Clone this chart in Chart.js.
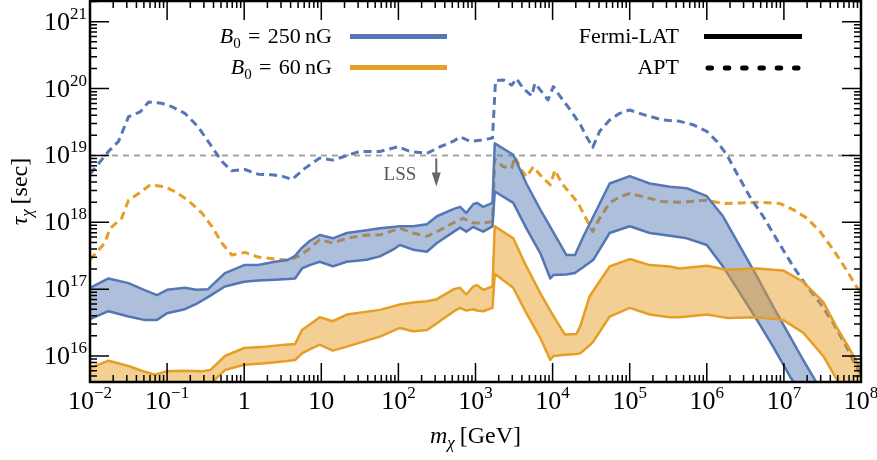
<!DOCTYPE html>
<html>
<head>
<meta charset="utf-8">
<script src="https://cdn.jsdelivr.net/npm/chart.js@4.4.0/dist/chart.umd.min.js"></script>
<style>
  body { margin: 0; background: #fff; }
</style>
</head>
<body>
<canvas id="tauChart" width="877" height="460"></canvas>
<script>
// all values are log10(m / GeV) and log10(tau / sec)
const fermi250LogM  = [-2.0, -1.76, -1.5, -1.3, -1.13, -1.0, -0.77, -0.62, -0.47, -0.25, 0.0, 0.18, 0.4, 0.57, 0.66, 0.75, 0.85, 0.98, 1.15, 1.33, 1.59, 1.76, 1.93, 2.02, 2.19, 2.37, 2.5, 2.72, 2.8, 2.88, 2.97, 3.02, 3.1, 3.22, 3.25, 3.49, 3.66, 3.84, 3.97, 4.01, 4.18, 4.29, 4.4, 4.53, 4.74, 5.0, 5.26, 5.52, 5.74, 6.0, 6.21, 6.43, 6.65, 6.86, 7.08, 7.25, 7.45];
const fermi250Upper = [17.02, 17.16, 17.09, 16.99, 16.91, 16.99, 17.02, 16.99, 17.0, 17.24, 17.36, 17.36, 17.41, 17.44, 17.5, 17.62, 17.72, 17.81, 17.76, 17.84, 17.88, 17.91, 17.93, 17.94, 17.94, 17.97, 18.09, 18.2, 18.23, 18.14, 18.27, 18.29, 18.23, 18.29, 19.18, 19.01, 18.58, 18.19, 17.93, 17.85, 17.51, 17.51, 17.79, 18.09, 18.58, 18.69, 18.58, 18.53, 18.51, 18.39, 18.09, 17.64, 17.19, 16.74, 16.29, 15.94, 15.55];
const fermi250Lower = [16.55, 16.67, 16.59, 16.54, 16.54, 16.64, 16.7, 16.78, 16.88, 17.04, 17.11, 17.13, 17.14, 17.15, 17.16, 17.31, 17.36, 17.41, 17.34, 17.41, 17.44, 17.49, 17.59, 17.66, 17.59, 17.56, 17.69, 17.86, 17.92, 17.86, 17.93, 17.9, 17.86, 17.94, 18.46, 18.29, 17.91, 17.54, 17.16, 17.21, 17.22, 17.24, 17.33, 17.44, 17.84, 17.94, 17.84, 17.8, 17.76, 17.66, 17.34, 16.94, 16.54, 16.14, 15.69, 15.4, 15.1];

const fermi60LogM  = [-2.0, -1.76, -1.5, -1.33, -1.16, -1.01, -0.77, -0.55, -0.44, -0.25, 0.0, 0.27, 0.53, 0.66, 0.75, 0.85, 0.98, 1.15, 1.33, 1.76, 2.02, 2.19, 2.37, 2.5, 2.72, 2.8, 2.88, 2.97, 3.02, 3.1, 3.22, 3.25, 3.49, 3.66, 3.84, 3.97, 4.01, 4.16, 4.31, 4.36, 4.48, 4.53, 4.74, 5.0, 5.26, 5.52, 5.65, 6.0, 6.26, 6.65, 6.99, 7.25, 7.51, 7.68, 7.86, 8.0];
const fermi60Upper = [15.82, 15.93, 15.85, 15.78, 15.72, 15.77, 15.78, 15.77, 15.79, 16.0, 16.12, 16.14, 16.17, 16.18, 16.39, 16.47, 16.58, 16.52, 16.62, 16.69, 16.77, 16.8, 16.82, 16.85, 17.0, 17.02, 16.92, 17.04, 17.06, 16.99, 17.04, 17.94, 17.76, 17.34, 16.94, 16.68, 16.6, 16.32, 16.33, 16.45, 16.89, 16.98, 17.34, 17.45, 17.36, 17.34, 17.31, 17.35, 17.29, 17.31, 17.28, 17.11, 16.81, 16.44, 16.09, 15.79];
const fermi60Lower = [15.45, 15.5, 15.42, 15.38, 15.35, 15.36, 15.4, 15.48, 15.58, 15.79, 15.87, 15.89, 15.92, 15.94, 16.04, 16.1, 16.17, 16.08, 16.14, 16.29, 16.42, 16.37, 16.39, 16.49, 16.67, 16.72, 16.68, 16.7, 16.68, 16.67, 16.72, 17.23, 17.02, 16.64, 16.27, 15.94, 16.0, 16.02, 16.03, 16.04, 16.16, 16.22, 16.59, 16.72, 16.62, 16.58, 16.58, 16.62, 16.57, 16.58, 16.54, 16.35, 16.0, 15.66, 15.3, 15.0];

const apt250LogM   = [-2.0, -1.76, -1.63, -1.5, -1.35, -1.24, -1.07, -0.94, -0.77, -0.6, -0.42, -0.29, -0.16, 0.01, 0.18, 0.36, 0.49, 0.62, 0.79, 0.98, 1.15, 1.5, 1.76, 2.0, 2.15, 2.37, 2.54, 2.71, 2.8, 2.93, 3.08, 3.22, 3.26, 3.36, 3.47, 3.53, 3.62, 3.73, 3.77, 3.86, 3.94, 4.01, 4.1, 4.23, 4.36, 4.44, 4.52, 4.61, 4.74, 4.87, 5.0, 5.18, 5.43, 5.65, 5.82, 6.0, 6.13, 6.26, 6.39, 6.56, 6.73, 6.91, 7.12, 7.3, 7.47, 7.64, 7.81, 7.94, 8.0];
const apt250LogTau = [18.72, 19.06, 19.21, 19.58, 19.65, 19.8, 19.78, 19.73, 19.63, 19.43, 19.13, 18.91, 18.77, 18.79, 18.72, 18.71, 18.69, 18.64, 18.81, 18.96, 18.93, 19.06, 19.06, 19.13, 19.06, 19.03, 19.13, 19.21, 19.28, 19.21, 19.23, 19.26, 20.12, 20.13, 20.05, 20.15, 20.0, 19.89, 20.08, 19.95, 19.83, 20.03, 19.88, 19.68, 19.46, 19.28, 19.12, 19.36, 19.53, 19.63, 19.68, 19.61, 19.53, 19.51, 19.46, 19.36, 19.21, 19.01, 18.73, 18.38, 18.09, 17.74, 17.34, 17.04, 16.79, 16.49, 16.14, 15.84, 15.72];

const apt60LogM   = [-2.0, -1.81, -1.74, -1.59, -1.5, -1.37, -1.22, -1.03, -0.9, -0.73, -0.55, -0.42, -0.29, -0.16, 0.01, 0.18, 0.4, 0.57, 0.7, 0.83, 0.98, 1.15, 1.33, 1.59, 1.76, 1.89, 2.02, 2.19, 2.37, 2.5, 2.71, 2.84, 2.97, 3.1, 3.22, 3.25, 3.36, 3.47, 3.51, 3.6, 3.66, 3.75, 3.86, 3.97, 4.03, 4.12, 4.23, 4.33, 4.44, 4.52, 4.61, 4.74, 4.87, 5.0, 5.18, 5.43, 5.65, 6.0, 6.21, 6.43, 6.69, 6.95, 7.12, 7.3, 7.47, 7.64, 7.81, 7.94, 8.0];
const apt60LogTau = [17.44, 17.69, 17.91, 18.06, 18.33, 18.43, 18.56, 18.53, 18.46, 18.33, 18.14, 17.94, 17.69, 17.51, 17.55, 17.48, 17.45, 17.43, 17.49, 17.59, 17.74, 17.69, 17.76, 17.81, 17.81, 17.86, 17.91, 17.84, 17.79, 17.86, 17.99, 18.06, 17.99, 17.99, 18.01, 18.95, 18.83, 18.81, 18.98, 18.78, 18.68, 18.83, 18.68, 18.56, 18.78, 18.58, 18.43, 18.29, 18.04, 17.86, 18.06, 18.29, 18.38, 18.43, 18.38, 18.31, 18.3, 18.33, 18.28, 18.29, 18.3, 18.28, 18.19, 18.06, 17.86, 17.59, 17.29, 17.04, 16.94];

const lssLimit = 1e19;      // sec
const lssArrowMass = 310;   // GeV

const xTickExps = [-2, -1, 0, 1, 2, 3, 4, 5, 6, 7, 8];
const xTickLabels = [['10', '−2'], ['10', '−1'], ['1', ''], ['10', ''], ['10', '2'], ['10', '3'], ['10', '4'], ['10', '5'], ['10', '6'], ['10', '7'], ['10', '8']];
const yTickExps = [16, 17, 18, 19, 20, 21];
const yTickLabels = [['10', '16'], ['10', '17'], ['10', '18'], ['10', '19'], ['10', '20'], ['10', '21']];

const blue = '#5677b6';
const blueFill = 'rgba(76, 114, 176, 0.45)';
const orange = '#e59e26';
const orangeFill = 'rgba(232, 160, 40, 0.5)';
const serif = '"Liberation Serif", "DejaVu Serif", serif';

function pts(logM, logTau) {
  return logM.map((m, i) => ({ x: 10 ** m, y: 10 ** logTau[i] }));
}

// draw a row of text pieces (for super/subscripts), aligned on x
function drawRuns(ctx, runs, x, y, align) {
  let total = 0;
  runs.forEach(r => { ctx.font = r.font; r.w = ctx.measureText(r.text).width; total += r.w; });
  let cx = align === 'right' ? x - total : align === 'center' ? x - total / 2 : x;
  ctx.textAlign = 'left';
  ctx.textBaseline = 'alphabetic';
  runs.forEach(r => {
    ctx.font = r.font;
    ctx.fillText(r.text, cx, y + (r.dy || 0));
    cx += r.w;
  });
}

function powRuns(lab) {
  const runs = [{ text: lab[0], font: '26px ' + serif }];
  if (lab[1]) runs.push({ text: lab[1], font: '17px ' + serif, dy: -11 });
  return runs;
}

const decorations = {
  id: 'decorations',
  afterDraw(chart) {
    const { ctx, chartArea: a, scales: { x, y } } = chart;
    ctx.save();
    ctx.strokeStyle = '#000';
    ctx.fillStyle = '#000';

    // inward ticks on all four sides
    ctx.lineWidth = 1.5;
    ctx.beginPath();
    for (let k = -2; k <= 8; k++) {
      for (let m = 1; m <= 9; m++) {
        const v = m * 10 ** k;
        if (v > x.max * 1.0001) continue;
        const px = x.getPixelForValue(v);
        const len = m === 1 ? 19 : 7;
        ctx.moveTo(px, a.bottom); ctx.lineTo(px, a.bottom - len);
        ctx.moveTo(px, a.top); ctx.lineTo(px, a.top + len);
      }
    }
    for (let k = 15; k <= 21; k++) {
      for (let m = 1; m <= 9; m++) {
        const v = m * 10 ** k;
        if (v < y.min || v > y.max) continue;
        const py = y.getPixelForValue(v);
        const len = m === 1 ? 19 : 7;
        ctx.moveTo(a.left, py); ctx.lineTo(a.left + len, py);
        ctx.moveTo(a.right, py); ctx.lineTo(a.right - len, py);
      }
    }
    ctx.stroke();

    ctx.lineWidth = 2.5;
    ctx.strokeRect(a.left, a.top, a.right - a.left, a.bottom - a.top);

    // tick labels
    xTickExps.forEach((e, i) => {
      drawRuns(ctx, powRuns(xTickLabels[i]), x.getPixelForValue(10 ** e), a.bottom + 27, 'center');
    });
    yTickExps.forEach((e, i) => {
      drawRuns(ctx, powRuns(yTickLabels[i]), a.left - 3, y.getPixelForValue(10 ** e) + 8, 'right');
    });

    // axis titles
    drawRuns(ctx, [
      { text: 'm', font: 'italic 24px ' + serif },
      { text: 'χ', font: 'italic 17px ' + serif, dy: 5 },
      { text: '\u2009[GeV]', font: '24px ' + serif }
    ], (a.left + a.right) / 2, 443, 'center');

    ctx.save();
    ctx.translate(27, (a.top + a.bottom) / 2);
    ctx.rotate(-Math.PI / 2);
    drawRuns(ctx, [
      { text: 'τ', font: 'italic 24px ' + serif },
      { text: 'χ', font: 'italic 17px ' + serif, dy: 5 },
      { text: '\u2009[sec]', font: '24px ' + serif }
    ], 0, 0, 'center');
    ctx.restore();

    // LSS arrow
    const ax = x.getPixelForValue(lssArrowMass);
    const ay = y.getPixelForValue(lssLimit);
    ctx.fillStyle = '#555';
    ctx.strokeStyle = '#666';
    drawRuns(ctx, [{ text: 'LSS', font: '19px ' + serif }], ax - 20, ay + 25, 'right');
    ctx.lineWidth = 2;
    ctx.beginPath();
    ctx.moveTo(ax, ay + 3); ctx.lineTo(ax, ay + 22);
    ctx.stroke();
    ctx.fillStyle = '#666';
    ctx.beginPath();
    ctx.moveTo(ax - 4.5, ay + 17); ctx.lineTo(ax + 4.5, ay + 17); ctx.lineTo(ax, ay + 31);
    ctx.closePath();
    ctx.fill();

    // legend
    ctx.fillStyle = '#000';
    const bRuns = val => [
      { text: 'B', font: 'italic 22px ' + serif },
      { text: '0', font: '15px ' + serif, dy: 5 },
      { text: '\u2004=\u2004' + val + '\u2009nG', font: '22px ' + serif }
    ];
    drawRuns(ctx, bRuns('250'), 332, 43, 'right');
    drawRuns(ctx, bRuns('60'), 332, 74, 'right');
    drawRuns(ctx, [{ text: 'Fermi-LAT', font: '22px ' + serif }], 679, 43, 'right');
    drawRuns(ctx, [{ text: 'APT', font: '22px ' + serif }], 679, 74, 'right');

    ctx.lineWidth = 5;
    ctx.lineCap = 'butt';
    [[blue, 36.5], [orange, 67.5]].forEach(([c, ly]) => {
      ctx.strokeStyle = c;
      ctx.beginPath(); ctx.moveTo(350, ly); ctx.lineTo(447, ly); ctx.stroke();
    });
    ctx.strokeStyle = '#000';
    ctx.beginPath(); ctx.moveTo(704, 36.5); ctx.lineTo(802, 36.5); ctx.stroke();
    ctx.lineCap = 'round';
    ctx.setLineDash([3.5, 13.8]);
    ctx.beginPath(); ctx.moveTo(708, 68); ctx.lineTo(802, 68); ctx.stroke();
    ctx.restore();
  }
};

const lineBase = { pointRadius: 0, tension: 0, borderJoinStyle: 'round' };

const chart = new Chart(document.getElementById('tauChart'), {
  type: 'line',
  data: {
    datasets: [
      { ...lineBase, data: pts(fermi60LogM, fermi60Upper), borderColor: orange, borderWidth: 2.5, fill: '+1', backgroundColor: orangeFill, order: 1 },
      { ...lineBase, data: pts(fermi60LogM, fermi60Lower), borderColor: orange, borderWidth: 2.5, fill: false, order: 1 },
      { ...lineBase, data: pts(fermi250LogM, fermi250Upper), borderColor: blue, borderWidth: 2.5, fill: '+1', backgroundColor: blueFill, order: 2 },
      { ...lineBase, data: pts(fermi250LogM, fermi250Lower), borderColor: blue, borderWidth: 2.5, fill: false, order: 2 },
      { ...lineBase, data: pts(apt250LogM, apt250LogTau), borderColor: blue, borderWidth: 3, borderDash: [8, 5], fill: false, order: 3 },
      { ...lineBase, data: pts(apt60LogM, apt60LogTau), borderColor: orange, borderWidth: 3, borderDash: [8, 5], fill: false, order: 3 },
      { ...lineBase, data: [{ x: 1e-2, y: lssLimit }, { x: 1e8, y: lssLimit }], borderColor: '#a3a3a3', borderWidth: 2, borderDash: [6, 5], fill: false, order: 4 }
    ]
  },
  options: {
    responsive: false,
    animation: false,
    layout: { padding: { top: 1, right: 16, left: 0, bottom: 0 } },
    plugins: { legend: { display: false }, tooltip: { enabled: false } },
    scales: {
      x: {
        type: 'logarithmic',
        min: 1e-2,
        max: 1e8,
        ticks: { display: false },
        grid: { display: false },
        border: { display: false },
        afterFit(s) { s.height = 78; }
      },
      y: {
        type: 'logarithmic',
        min: 10 ** 15.611,
        max: 10 ** 21.31,
        ticks: { display: false },
        grid: { display: false },
        border: { display: false },
        afterFit(s) { s.width = 90; }
      }
    }
  },
  plugins: [decorations]
});
</script>
</body>
</html>
